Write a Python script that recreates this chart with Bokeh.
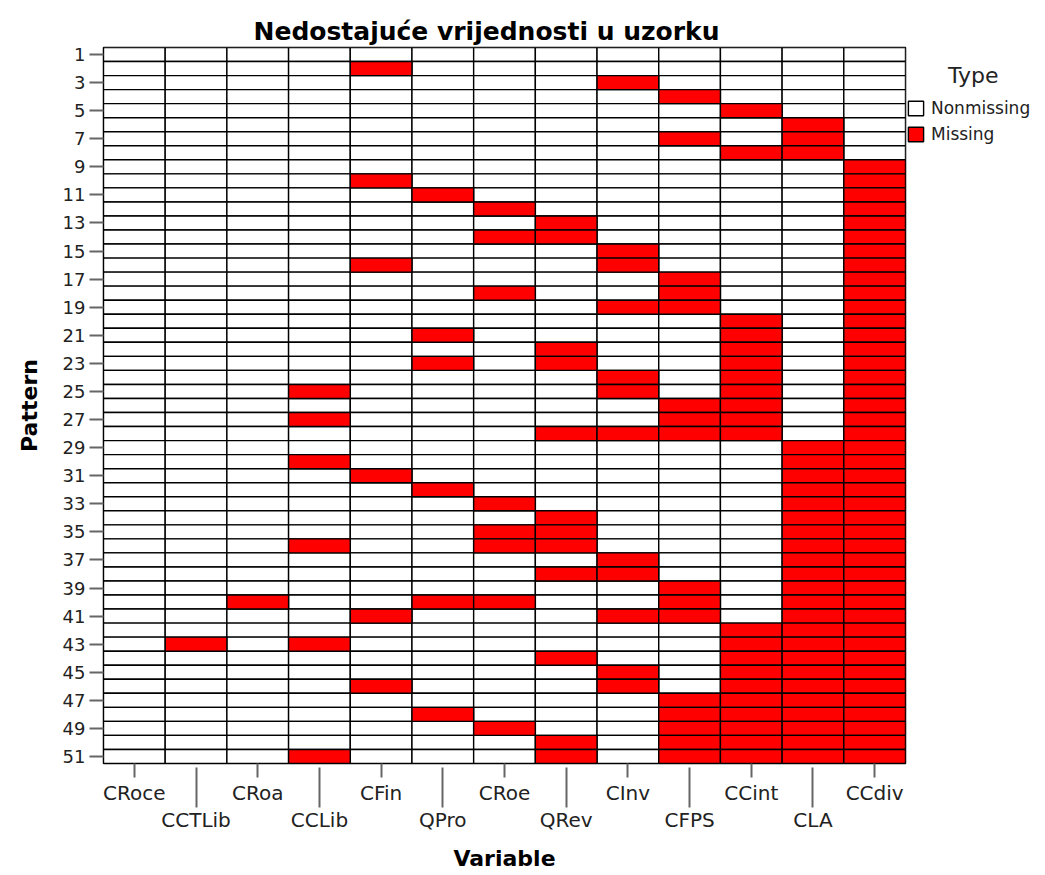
from bokeh.plotting import figure
from bokeh.models import Range1d, FixedTicker, LinearAxis, ColumnDataSource, Legend, LegendItem
from bokeh.embed import file_html
from bokeh.resources import INLINE

# ---------------- data ----------------
variables = ["CRoce", "CCTLib", "CRoa", "CCLib", "CFin", "QPro", "CRoe",
             "QRev", "CInv", "CFPS", "CCint", "CLA", "CCdiv"]
patterns = list(range(1, 52))
pattern_ticks = [1, 3, 5, 7, 9, 11, 13, 15, 17, 19, 21, 23, 25, 27, 29, 31, 33,
                 35, 37, 39, 41, 43, 45, 47, 49, 51]

# pattern numbers in which each variable is missing
miss_CRoce = []
miss_CCTLib = [43]
miss_CRoa = [40]
miss_CCLib = [25, 27, 30, 36, 43, 51]
miss_CFin = [2, 10, 16, 31, 41, 46]
miss_QPro = [11, 21, 23, 32, 40, 48]
miss_CRoe = [12, 14, 18, 33, 35, 36, 40, 49]
miss_QRev = [13, 14, 22, 23, 28, 34, 35, 36, 38, 44, 50, 51]
miss_CInv = [3, 15, 16, 19, 24, 25, 28, 37, 38, 41, 45, 46]
miss_CFPS = [4, 7, 17, 18, 19, 26, 27, 28, 39, 40, 41, 47, 48, 49, 50, 51]
miss_CCint = [5, 8, 20, 21, 22, 23, 24, 25, 26, 27, 28, 42, 43, 44, 45, 46,
              47, 48, 49, 50, 51]
miss_CLA = [6, 7, 8, 29, 30, 31, 32, 33, 34, 35, 36, 37, 38, 39, 40, 41, 42,
            43, 44, 45, 46, 47, 48, 49, 50, 51]
miss_CCdiv = [9, 10, 11, 12, 13, 14, 15, 16, 17, 18, 19, 20, 21, 22, 23, 24,
              25, 26, 27, 28, 29, 30, 31, 32, 33, 34, 35, 36, 37, 38, 39, 40,
              41, 42, 43, 44, 45, 46, 47, 48, 49, 50, 51]

missing_by_var = [miss_CRoce, miss_CCTLib, miss_CRoa, miss_CCLib, miss_CFin,
                  miss_QPro, miss_CRoe, miss_QRev, miss_CInv, miss_CFPS,
                  miss_CCint, miss_CLA, miss_CCdiv]

# ---------------- build sources ----------------
nm = dict(x=[], y=[])
ms = dict(x=[], y=[])
for ci, miss in enumerate(missing_by_var):
    for r in patterns:
        d = ms if r in miss else nm
        d["x"].append(ci)
        d["y"].append(r)

FONT = "DejaVu Sans"

p = figure(frame_width=802, frame_height=716,
           x_range=Range1d(-0.5, len(variables) - 0.5),
           y_range=Range1d(len(patterns) + 0.5, 0.5),
           output_backend="svg", toolbar_location=None,
           x_axis_location=None, y_axis_location=None,
           min_border_left=103, min_border_right=124,
           min_border_top=47, min_border_bottom=100,
           title="Nedostajuće vrijednosti u uzorku")
p.xgrid.visible = False
p.ygrid.visible = False
p.outline_line_color = "#000000"
p.outline_line_width = 1.5
p.background_fill_color = "white"
p.border_fill_color = "white"

p.title.align = "left"
p.title.offset = 150
p.title.text_font = FONT
p.title.text_font_size = "25px"
p.title.text_font_style = "bold"
p.title.text_color = "#000000"
p.title.standoff = 4

r_nm = p.rect(x="x", y="y", width=1, height=1, source=ColumnDataSource(nm),
              fill_color="white", line_color="#000000", line_width=1.4)
r_ms = p.rect(x="x", y="y", width=1, height=1, source=ColumnDataSource(ms),
              fill_color="#ff0000", line_color="#000000", line_width=1.4)

# ---------------- y axis ----------------
yax = LinearAxis(ticker=FixedTicker(ticks=pattern_ticks, minor_ticks=[]),
                 axis_label="Pattern")
yax.major_tick_out = 14
yax.major_tick_in = 0
yax.minor_tick_out = 0
yax.major_tick_line_color = "#666666"
yax.major_tick_line_width = 2
yax.axis_line_color = "#000000"
yax.major_label_standoff = 4
yax.major_label_text_font = FONT
yax.major_label_text_font_size = "18px"
yax.major_label_text_color = "#222222"
yax.axis_label_text_font = FONT
yax.axis_label_text_font_size = "22px"
yax.axis_label_text_font_style = "bold"
yax.axis_label_text_color = "#000000"
yax.axis_label_standoff = 18
p.add_layout(yax, "left")

# ---------------- x axes (staggered labels) ----------------
even_idx = list(range(0, len(variables), 2))
odd_idx = list(range(1, len(variables), 2))

xax1 = LinearAxis(ticker=FixedTicker(ticks=even_idx, minor_ticks=[]))
xax1.major_label_overrides = {i: variables[i] for i in even_idx}
xax1.major_tick_out = 14
xax1.major_tick_in = 0
xax1.minor_tick_out = 0
xax1.minor_tick_in = 0
xax1.major_tick_line_color = "#666666"
xax1.major_tick_line_width = 2
xax1.axis_line_color = "#000000"
xax1.major_label_standoff = 3
xax1.major_label_text_font = FONT
xax1.major_label_text_font_size = "20px"
xax1.major_label_text_color = "#222222"
p.add_layout(xax1, "below")

xax2 = LinearAxis(ticker=FixedTicker(ticks=odd_idx, minor_ticks=[]),
                  axis_label="Variable")
xax2.major_label_overrides = {i: variables[i] for i in odd_idx}
xax2.major_tick_line_color = "#666666"
xax2.major_tick_line_width = 2
xax2.axis_line_color = None
xax2.major_tick_out = 0
xax2.major_tick_in = 40
xax2.minor_tick_out = 0
xax2.minor_tick_in = 0
xax2.major_label_standoff = 0
xax2.major_label_text_font = FONT
xax2.major_label_text_font_size = "20px"
xax2.major_label_text_color = "#222222"
xax2.axis_label_text_font = FONT
xax2.axis_label_text_font_size = "22px"
xax2.axis_label_text_font_style = "bold"
xax2.axis_label_text_color = "#000000"
xax2.axis_label_standoff = 11
p.add_layout(xax2, "below")

# ---------------- legend ----------------
legend = Legend(items=[LegendItem(label="Nonmissing", renderers=[r_nm]),
                       LegendItem(label="Missing", renderers=[r_ms])],
                title="\u00a0" * 6 + "Type",
                location=(1, 619))
legend.margin = 0
legend.padding = 4
legend.spacing = 6
legend.border_line_color = None
legend.background_fill_alpha = 0
legend.glyph_width = 19
legend.glyph_height = 18
legend.label_width = 19
legend.label_height = 18
legend.label_standoff = 6
legend.label_text_font = FONT
legend.label_text_font_size = "17px"
legend.label_text_color = "#222222"
legend.title_text_font = FONT
legend.title_text_font_size = "22px"
legend.title_text_font_style = "normal"
legend.title_text_color = "#222222"
legend.title_standoff = 10
p.add_layout(legend, "right")

open("out.html", "w").write(file_html(p, INLINE))
